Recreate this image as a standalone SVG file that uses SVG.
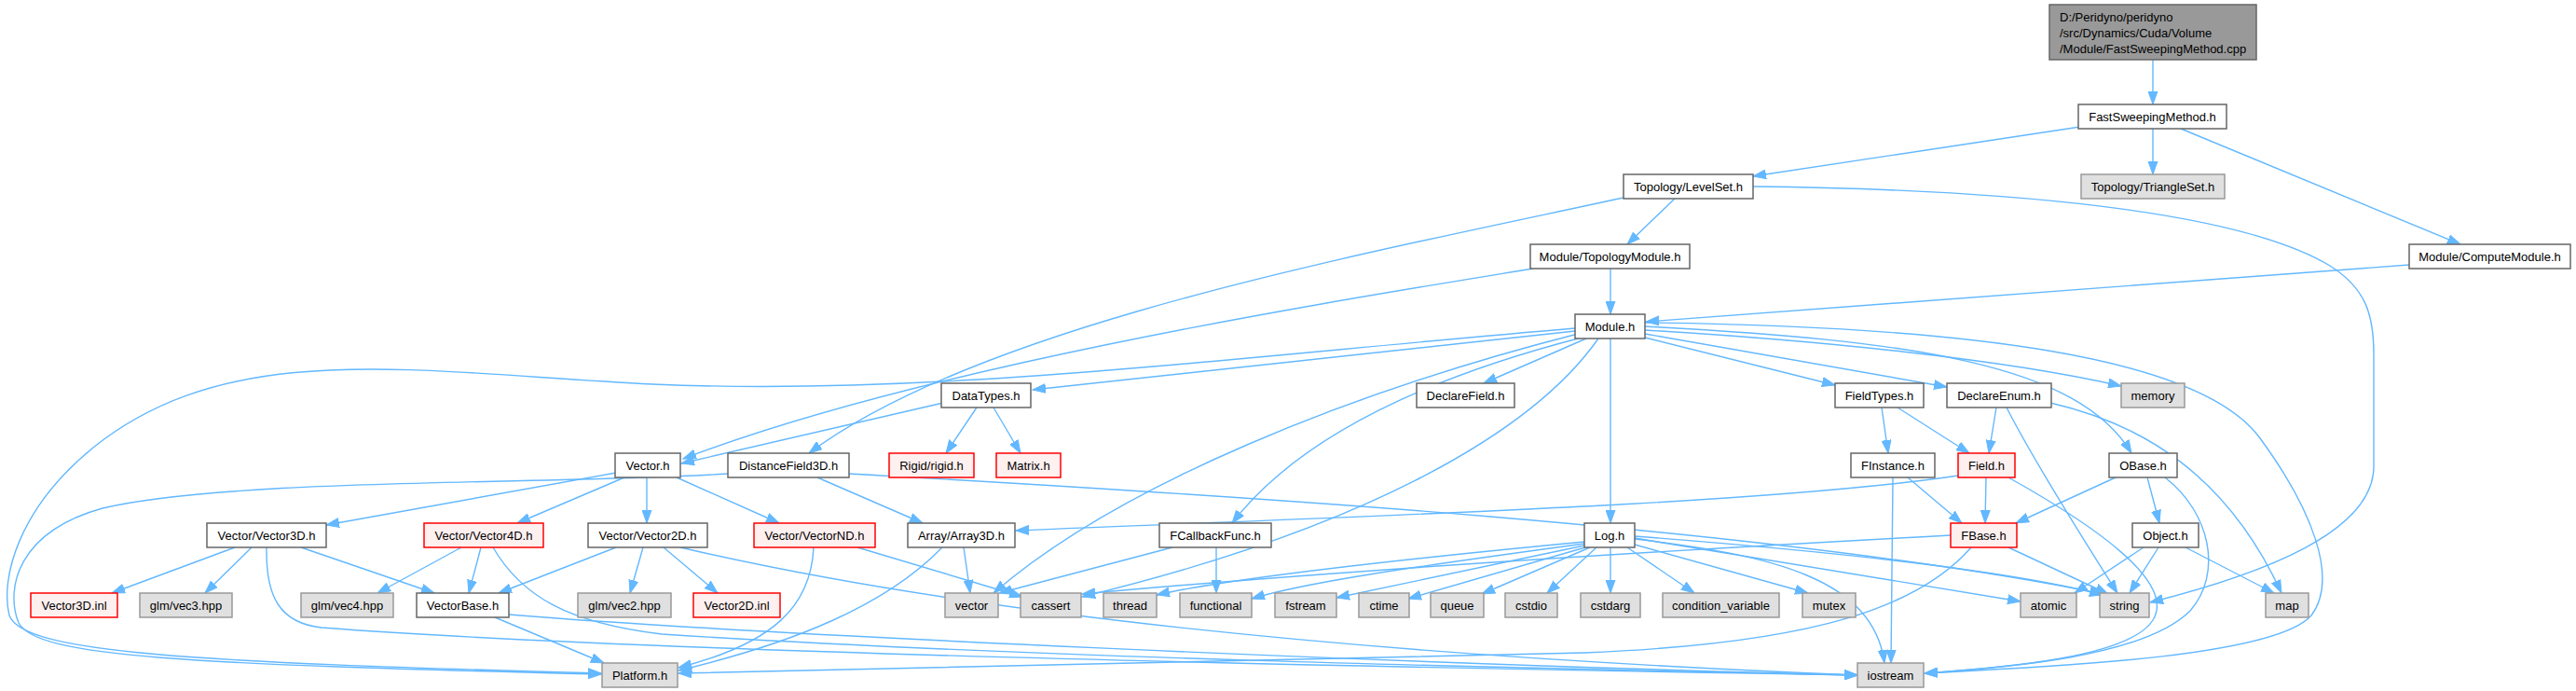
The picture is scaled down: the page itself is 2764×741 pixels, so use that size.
<svg xmlns="http://www.w3.org/2000/svg" width="2764" height="741" viewBox="0 0 2764 741">
<style>
text{font-family:"Liberation Sans",Arial,sans-serif;font-size:13px;fill:#000;text-anchor:middle}
.n rect{fill:#fff;stroke:#666;stroke-width:1.5}
.g rect{fill:#e0e0e0;stroke:#999;stroke-width:1.5}
.r rect{fill:#fff0f0;stroke:#f00;stroke-width:1.5}
.root rect{fill:#999;stroke:#666;stroke-width:1.5}
.root text{text-anchor:start}
#edges path{fill:none;stroke:#63b8ff;stroke-width:1.4;marker-end:url(#ah)}
</style>
<defs>
<marker id="ah" markerUnits="userSpaceOnUse" markerWidth="15" markerHeight="11" refX="14" refY="5.5" orient="auto" viewBox="0 0 15 11">
<path d="M0,0.5 L14,5.5 L0,10.5 z" fill="#63b8ff" stroke="#63b8ff" stroke-width="1"/>
</marker>
</defs>
<rect width="2764" height="741" fill="#fff"/>
<g id="edges">
<path d="M2310,64 L2310,112"/>
<path d="M2232,136 L1881,189"/>
<path d="M2310,138 L2310,187"/>
<path d="M2340,138 L2640,262"/>
<path d="M1797,213 L1746,262"/>
<path d="M1742,212 C1450,275 1050,350 868,486"/>
<path d="M1881,200 C2150,203 2400,225 2500,285 C2540,310 2547,340 2547,380 L2547,500 C2547,570 2430,615 2307,646"/>
<path d="M1728,288 L1728,337"/>
<path d="M1645,288 C1450,320 1000,390 733,492"/>
<path d="M2585,284 L1766,345"/>
<path d="M1690,352 C1300,385 1000,425 700,412 C450,400 250,360 100,480 C20,545 0,620 10,660 C25,700 200,710 645,722"/>
<path d="M1690,355 L1108,418"/>
<path d="M1702,363 L1592,411"/>
<path d="M1765,362 L1969,413"/>
<path d="M1765,358 L2089,415"/>
<path d="M1765,354 C1950,365 2150,385 2276,414"/>
<path d="M1765,350 C2050,365 2230,390 2287,486"/>
<path d="M1765,346 C2100,350 2360,380 2425,470 C2480,545 2510,620 2480,660 C2440,705 2200,715 2065,722"/>
<path d="M1693,358 C1450,420 1200,520 1066,636"/>
<path d="M1697,362 C1550,400 1400,460 1322,561"/>
<path d="M1728,363 L1728,561"/>
<path d="M1715,363 C1640,470 1450,570 1161,640"/>
<path d="M1012,432 L731,497"/>
<path d="M1048,437 L1015,486"/>
<path d="M1066,437 L1095,486"/>
<path d="M661,507 L350,563"/>
<path d="M670,512 L555,561"/>
<path d="M694,512 L694,561"/>
<path d="M726,512 L836,561"/>
<path d="M781,508 C600,520 250,512 110,545 C20,570 5,630 20,668 C40,705 200,712 645,723"/>
<path d="M877,512 L990,561"/>
<path d="M911,508 C1300,530 1900,565 2257,637"/>
<path d="M252,587 L120,636"/>
<path d="M270,587 L220,636"/>
<path d="M323,587 L466,636"/>
<path d="M286,587 C285,640 300,668 345,673 C700,700 1500,716 1993,724"/>
<path d="M495,587 L405,636"/>
<path d="M516,587 L503,636"/>
<path d="M529,587 C560,640 610,668 710,680 C1100,705 1600,716 1993,724"/>
<path d="M661,587 L535,636"/>
<path d="M690,587 L676,636"/>
<path d="M712,587 L770,636"/>
<path d="M730,587 C1000,650 1400,700 1993,724"/>
<path d="M531,662 L648,711"/>
<path d="M546,659 C800,680 1500,712 1993,724"/>
<path d="M873,587 C870,650 830,690 728,716"/>
<path d="M920,587 L1097,640"/>
<path d="M1034,587 L1041,636"/>
<path d="M1011,587 C950,650 850,690 728,719"/>
<path d="M1305,587 L1305,636"/>
<path d="M1258,587 L1072,636"/>
<path d="M2131,512 L2130,561"/>
<path d="M2101,510 C1900,540 1500,552 1090,569"/>
<path d="M2155,512 C2250,565 2335,625 2310,665 C2285,705 2150,716 2065,722"/>
<path d="M2270,512 L2163,561"/>
<path d="M2304,512 L2317,561"/>
<path d="M2323,512 C2372,550 2385,615 2350,655 C2300,705 2150,716 2065,722"/>
<path d="M2300,587 L2226,636"/>
<path d="M2316,587 L2285,636"/>
<path d="M2345,587 L2440,636"/>
<path d="M2155,587 L2262,637"/>
<path d="M2115,587 C2060,650 1950,690 1700,700 C1300,712 900,718 728,722"/>
<path d="M2093,574 C1700,595 1400,615 1161,637"/>
<path d="M2047,512 L2105,561"/>
<path d="M2031,512 L2029,711"/>
<path d="M2019,437 L2026,486"/>
<path d="M2036,437 L2113,486"/>
<path d="M2142,437 L2134,486"/>
<path d="M2153,437 C2180,490 2230,570 2272,636"/>
<path d="M2200,432 C2300,455 2390,510 2448,636"/>
<path d="M1700,585 L1434,641"/>
<path d="M1701,587 L1511,642"/>
<path d="M1706,587 L1590,637"/>
<path d="M1713,587 L1660,636"/>
<path d="M1728,587 L1728,636"/>
<path d="M1746,587 L1818,636"/>
<path d="M1754,584 L1940,636"/>
<path d="M1754,578 C1900,595 2010,620 2022,711"/>
<path d="M1754,577 L2168,645"/>
<path d="M1754,575 C1950,590 2150,610 2256,638"/>
<path d="M1700,581 C1500,600 1320,620 1241,638"/>
<path d="M1700,583 C1500,610 1400,625 1343,642"/>
</g>
<g id="root" class="root"><rect x="2199" y="5" width="222" height="59"/><text x="2210" y="23">D:/Peridyno/peridyno</text><text x="2210" y="40">/src/Dynamics/Cuda/Volume</text><text x="2210" y="57">/Module/FastSweepingMethod.cpp</text></g>
<g id="FastSweepingMethod" class="n"><rect x="2230" y="112" width="159" height="26"/><text x="2309.5" y="129.5">FastSweepingMethod.h</text></g>
<g id="LevelSet" class="n"><rect x="1742" y="187" width="139" height="26"/><text x="1811.5" y="204.5">Topology/LevelSet.h</text></g>
<g id="TriangleSet" class="g"><rect x="2233" y="187" width="154" height="26"/><text x="2310" y="204.5">Topology/TriangleSet.h</text></g>
<g id="TopologyModule" class="n"><rect x="1642" y="262" width="171" height="26"/><text x="1727.5" y="279.5">Module/TopologyModule.h</text></g>
<g id="ComputeModule" class="n"><rect x="2585" y="262" width="173" height="26"/><text x="2671.5" y="279.5">Module/ComputeModule.h</text></g>
<g id="Module" class="n"><rect x="1690" y="337" width="75" height="26"/><text x="1727.5" y="354.5">Module.h</text></g>
<g id="DataTypes" class="n"><rect x="1010" y="411" width="96" height="26"/><text x="1058" y="428.5">DataTypes.h</text></g>
<g id="DeclareField" class="n"><rect x="1520" y="411" width="105" height="26"/><text x="1572.5" y="428.5">DeclareField.h</text></g>
<g id="FieldTypes" class="n"><rect x="1969" y="411" width="95" height="26"/><text x="2016.5" y="428.5">FieldTypes.h</text></g>
<g id="DeclareEnum" class="n"><rect x="2089" y="411" width="112" height="26"/><text x="2145" y="428.5">DeclareEnum.h</text></g>
<g id="memory" class="g"><rect x="2276" y="411" width="68" height="26"/><text x="2310" y="428.5">memory</text></g>
<g id="Vector" class="n"><rect x="660" y="486" width="70" height="26"/><text x="695" y="503.5">Vector.h</text></g>
<g id="DistanceField3D" class="n"><rect x="781" y="486" width="130" height="26"/><text x="846" y="503.5">DistanceField3D.h</text></g>
<g id="rigid" class="r"><rect x="954" y="486" width="91" height="26"/><text x="999.5" y="503.5">Rigid/rigid.h</text></g>
<g id="Matrix" class="r"><rect x="1069" y="486" width="69" height="26"/><text x="1103.5" y="503.5">Matrix.h</text></g>
<g id="FInstance" class="n"><rect x="1986" y="486" width="90" height="26"/><text x="2031" y="503.5">FInstance.h</text></g>
<g id="Field" class="r"><rect x="2101" y="486" width="61" height="26"/><text x="2131.5" y="503.5">Field.h</text></g>
<g id="OBase" class="n"><rect x="2263" y="486" width="73" height="26"/><text x="2299.5" y="503.5">OBase.h</text></g>
<g id="Vector3D" class="n"><rect x="222" y="561" width="128" height="26"/><text x="286" y="578.5">Vector/Vector3D.h</text></g>
<g id="Vector4D" class="r"><rect x="455" y="561" width="128" height="26"/><text x="519" y="578.5">Vector/Vector4D.h</text></g>
<g id="Vector2D" class="n"><rect x="631" y="561" width="128" height="26"/><text x="695" y="578.5">Vector/Vector2D.h</text></g>
<g id="VectorND" class="r"><rect x="809" y="561" width="130" height="26"/><text x="874" y="578.5">Vector/VectorND.h</text></g>
<g id="Array3D" class="n"><rect x="974" y="561" width="115" height="26"/><text x="1031.5" y="578.5">Array/Array3D.h</text></g>
<g id="FCallbackFunc" class="n"><rect x="1244" y="561" width="120" height="26"/><text x="1304" y="578.5">FCallbackFunc.h</text></g>
<g id="Log" class="n"><rect x="1700" y="561" width="54" height="26"/><text x="1727" y="578.5">Log.h</text></g>
<g id="FBase" class="r"><rect x="2093" y="561" width="71" height="26"/><text x="2128.5" y="578.5">FBase.h</text></g>
<g id="Object" class="n"><rect x="2288" y="561" width="71" height="26"/><text x="2323.5" y="578.5">Object.h</text></g>
<g id="Vector3Dinl" class="r"><rect x="33" y="636" width="93" height="26"/><text x="79.5" y="653.5">Vector3D.inl</text></g>
<g id="vec3" class="g"><rect x="150" y="636" width="99" height="26"/><text x="199.5" y="653.5">glm/vec3.hpp</text></g>
<g id="vec4" class="g"><rect x="323" y="636" width="99" height="26"/><text x="372.5" y="653.5">glm/vec4.hpp</text></g>
<g id="VectorBase" class="n"><rect x="447" y="636" width="99" height="26"/><text x="496.5" y="653.5">VectorBase.h</text></g>
<g id="vec2" class="g"><rect x="620" y="636" width="100" height="26"/><text x="670" y="653.5">glm/vec2.hpp</text></g>
<g id="Vector2Dinl" class="r"><rect x="744" y="636" width="93" height="26"/><text x="790.5" y="653.5">Vector2D.inl</text></g>
<g id="vector" class="g"><rect x="1014" y="636" width="57" height="26"/><text x="1042.5" y="653.5">vector</text></g>
<g id="cassert" class="g"><rect x="1095" y="636" width="65" height="26"/><text x="1127.5" y="653.5">cassert</text></g>
<g id="thread" class="g"><rect x="1184" y="636" width="57" height="26"/><text x="1212.5" y="653.5">thread</text></g>
<g id="functional" class="g"><rect x="1266" y="636" width="77" height="26"/><text x="1304.5" y="653.5">functional</text></g>
<g id="fstream" class="g"><rect x="1368" y="636" width="66" height="26"/><text x="1401" y="653.5">fstream</text></g>
<g id="ctime" class="g"><rect x="1458" y="636" width="54" height="26"/><text x="1485" y="653.5">ctime</text></g>
<g id="queue" class="g"><rect x="1535" y="636" width="57" height="26"/><text x="1563.5" y="653.5">queue</text></g>
<g id="cstdio" class="g"><rect x="1615" y="636" width="56" height="26"/><text x="1643" y="653.5">cstdio</text></g>
<g id="cstdarg" class="g"><rect x="1696" y="636" width="64" height="26"/><text x="1728" y="653.5">cstdarg</text></g>
<g id="condition_variable" class="g"><rect x="1784" y="636" width="125" height="26"/><text x="1846.5" y="653.5">condition_variable</text></g>
<g id="mutex" class="g"><rect x="1934" y="636" width="57" height="26"/><text x="1962.5" y="653.5">mutex</text></g>
<g id="atomic" class="g"><rect x="2168" y="636" width="60" height="26"/><text x="2198" y="653.5">atomic</text></g>
<g id="string" class="g"><rect x="2253" y="636" width="53" height="26"/><text x="2279.5" y="653.5">string</text></g>
<g id="map" class="g"><rect x="2431" y="636" width="46" height="26"/><text x="2454" y="653.5">map</text></g>
<g id="Platform" class="g"><rect x="646" y="711" width="81" height="26"/><text x="686.5" y="728.5">Platform.h</text></g>
<g id="iostream" class="g"><rect x="1993" y="711" width="71" height="26"/><text x="2028.5" y="728.5">iostream</text></g>
</svg>
